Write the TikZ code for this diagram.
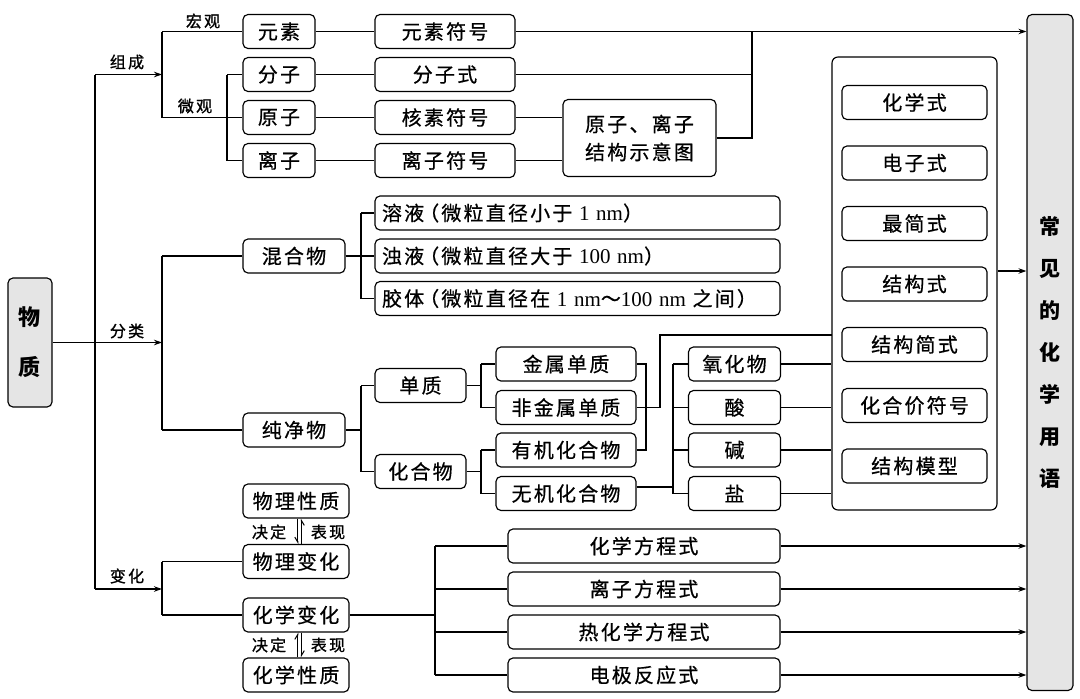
\documentclass[tikz,border=0pt]{standalone}
\usepackage{fontspec}
\setmainfont{Liberation Serif}
\newfontfamily\cjk[LetterSpace=11,FakeBold=0.6]{Noto Sans CJK SC}
\newfontfamily\cjkl[LetterSpace=14,FakeBold=1.2]{Noto Sans CJK SC}
\newfontfamily\cjkn{Noto Sans CJK SC}
\usetikzlibrary{arrows.meta}
\newcommand\lparen{\kern-5pt（}
\begin{document}
\begin{tikzpicture}[x=1pt,y=-1pt,line width=1.15pt,
  bx/.style={draw, rounded corners=5pt, inner sep=0pt, minimum height=34pt, font=\cjk\fontsize{20}{22}\selectfont},
  lb/.style={font=\cjkl\fontsize{16}{16}\selectfont, inner sep=0pt},
  arr/.style={-{Stealth[length=8pt,width=5.5pt]}},
  gbox/.style={draw, rounded corners=5pt, fill=black!10, inner sep=0pt},
  wide/.style={bx, text width=391pt, align=left, inner xsep=7pt, minimum width=405pt},
  hp/.style={-{Straight Barb[harpoon,length=5pt,width=6pt]}, line width=1pt},
  hps/.style={-{Straight Barb[harpoon,swap,length=5pt,width=6pt]}, line width=1pt}]
\useasboundingbox (0,0) rectangle (1080,699);
% big boxes
\node[gbox, minimum width=44pt, minimum height=129pt, align=center, font=\cjkn\bfseries\fontsize{22}{50}\selectfont] (wuzhi) at (30,342.5) {物\\质};
\node[gbox, minimum width=46pt, minimum height=676pt, align=center, font=\cjkn\bfseries\fontsize{21}{42}\selectfont] (big) at (1050,352.5) {常\\见\\的\\化\\学\\用\\语};
\node[draw, rounded corners=6pt, minimum width=165pt, minimum height=453pt, inner sep=0pt] (inner) at (914.5,283.5) {};
% top part
\node[bx, minimum width=72pt] (yuansu) at (279,31.5) {元素};
\node[bx, minimum width=140pt] (yuansufh) at (445,31.5) {元素符号};
\node[bx, minimum width=72pt] (fenzi) at (279,74.5) {分子};
\node[bx, minimum width=140pt] (fenzishi) at (445,74.5) {分子式};
\node[bx, minimum width=72pt] (yuanzi) at (279,117.5) {原子};
\node[bx, minimum width=140pt] (hesu) at (445,117.5) {核素符号};
\node[bx, minimum width=72pt] (lizi) at (279,160.5) {离子};
\node[bx, minimum width=140pt] (lizifh) at (445,160.5) {离子符号};
\node[bx, minimum width=153pt, minimum height=77pt, align=center, font=\cjk\fontsize{20}{28}\selectfont] (jiegou) at (639.5,138) {原子、离子\\结构示意图};
% middle part
\node[bx, minimum width=102pt] (hunhe) at (294,256) {混合物};
\node[bx, minimum width=102pt] (chunjing) at (294,430) {纯净物};
\node[wide] (rongye) at (577.5,213) {溶液\lparen 微粒直径小于{\rmfamily\fontsize{21}{22}\selectfont\ 1 nm}）};
\node[wide] (zhuoye) at (577.5,256) {浊液\lparen 微粒直径大于{\rmfamily\fontsize{21}{22}\selectfont\ 100 nm}）};
\node[wide] (jiaoti) at (577.5,298.5) {胶体\lparen 微粒直径在{\rmfamily\fontsize{21}{22}\selectfont\ 1 nm}～{\rmfamily\fontsize{21}{22}\selectfont 100 nm\ }之间）};
\node[bx, minimum width=91pt] (danzhi) at (420.5,385.5) {单质};
\node[bx, minimum width=91pt] (huahewu) at (420.5,471.5) {化合物};
\node[bx, minimum width=140pt] (jinshu) at (566,364) {金属单质};
\node[bx, minimum width=140pt] (feijinshu) at (566,407.5) {非金属单质};
\node[bx, minimum width=140pt] (youji) at (566,450) {有机化合物};
\node[bx, minimum width=140pt] (wuji) at (566,493.5) {无机化合物};
\node[bx, minimum width=92pt] (yanghua) at (734.5,364) {氧化物};
\node[bx, minimum width=92pt] (suan) at (734.5,407.5) {酸};
\node[bx, minimum width=92pt] (jian) at (734.5,450) {碱};
\node[bx, minimum width=92pt] (yan) at (734.5,493.5) {盐};
\node[bx, minimum width=145pt] (s1) at (914.5,102.5) {化学式};
\node[bx, minimum width=145pt] (s2) at (914.5,163) {电子式};
\node[bx, minimum width=145pt] (s3) at (914.5,223.5) {最简式};
\node[bx, minimum width=145pt] (s4) at (914.5,284) {结构式};
\node[bx, minimum width=145pt] (s5) at (914.5,344.5) {结构简式};
\node[bx, minimum width=145pt] (s6) at (914.5,405.5) {化合价符号};
\node[bx, minimum width=145pt] (s7) at (914.5,466) {结构模型};
% bottom part
\node[bx, minimum width=106pt] (wulixz) at (296,501) {物理性质};
\node[bx, minimum width=106pt] (wulibh) at (296,561.5) {物理变化};
\node[bx, minimum width=106pt] (huaxuebh) at (296,615) {化学变化};
\node[bx, minimum width=106pt] (huaxuexz) at (296,675) {化学性质};
\node[bx, minimum width=272pt] (fc1) at (644,546) {化学方程式};
\node[bx, minimum width=272pt] (fc2) at (644,589) {离子方程式};
\node[bx, minimum width=272pt] (fc3) at (644,632) {热化学方程式};
\node[bx, minimum width=272pt] (fc4) at (644,675) {电极反应式};
% labels
\node[lb] (lhg) at (203,21) {宏观};
\node[lb] (lzc) at (127,62) {组成};
\node[lb] (lwg) at (195,106) {微观};
\node[lb] (lfl) at (127,331) {分类};
\node[lb] (lbh) at (127,576) {变化};
\node[lb] (ljd1) at (269,532) {决定};
\node[lb] (lbx1) at (328,532) {表现};
\node[lb] (ljd2) at (269,645) {决定};
\node[lb] (lbx2) at (328,645) {表现};
% coordinates
\coordinate (tTop) at (95,74.5);
\coordinate (tMid) at (95,342.5);
\coordinate (tBot) at (95,589);
\coordinate (zcJ) at (162,74.5);
\coordinate (zcT) at (162,31.5);
\coordinate (zcB) at (162,117.5);
\coordinate (wgT) at (227,74.5);
\coordinate (wgB) at (227,160.5);
\coordinate (jJ) at (752,31.5);
\coordinate (jM) at (752,74.5);
\coordinate (jB) at (752,138);
\coordinate (flJ) at (162,342.5);
\coordinate (flT) at (162,256);
\coordinate (flB) at (162,430);
\coordinate (hhT) at (361,213);
\coordinate (hhM) at (361,256);
\coordinate (hhB) at (361,298.5);
\coordinate (cjT) at (361,385.5);
\coordinate (cjM) at (361,430);
\coordinate (cjB) at (361,471.5);
\coordinate (dzT) at (481,364);
\coordinate (dzM) at (481,385.5);
\coordinate (dzB) at (481,407.5);
\coordinate (hhwT) at (481,450);
\coordinate (hhwM) at (481,471.5);
\coordinate (hhwB) at (481,493.5);
\coordinate (rT) at (646,364);
\coordinate (rB) at (646,450);
\coordinate (fjA) at (660,407.5);
\coordinate (fjB) at (660,335);
\coordinate (fjC) at (832,335);
\coordinate (wjT) at (673,364);
\coordinate (wjM) at (673,487);
\coordinate (wjB) at (673,493.5);
\coordinate (bhJ) at (162,589);
\coordinate (bhT) at (162,561.5);
\coordinate (bhB) at (162,615);
\coordinate (fcT) at (435,546);
\coordinate (fcM) at (435,615);
\coordinate (fcB) at (435,675);
% trunk
\draw (tTop) -- (tBot);
\draw (wuzhi.east) -- (tMid);
\draw[arr] (tTop) -- (zcJ);
\draw[arr] (tMid) -- (flJ);
\draw[arr] (tBot) -- (bhJ);
% composition
\draw (zcT) -- (zcB);
\draw (zcT) -- (yuansu.west);
\draw (zcB) -- (yuanzi.west);
\draw (wgT) -- (wgB);
\draw (wgT) -- (fenzi.west);
\draw (wgB) -- (lizi.west);
\draw (yuansu) -- (yuansufh);
\draw (fenzi) -- (fenzishi);
\draw (yuanzi) -- (hesu);
\draw (lizi) -- (lizifh);
\draw[arr] (yuansufh.east) -- (yuansufh.east -| big.west);
\draw (fenzishi.east) -- (jM);
\draw (hesu.east) -- (hesu.east -| jiegou.west);
\draw (lizifh.east) -- (lizifh.east -| jiegou.west);
\draw (jiegou.east) -- (jB) -- (jJ);
% classification
\draw (flT) -- (flB);
\draw (flT) -- (hunhe.west);
\draw (flB) -- (chunjing.west);
\draw (hunhe.east) -- (hhM);
\draw (hhT) -- (hhB);
\draw (hhT) -- (rongye.west);
\draw (hhM) -- (zhuoye.west);
\draw (hhB) -- (jiaoti.west);
\draw (chunjing.east) -- (cjM);
\draw (cjT) -- (cjB);
\draw (cjT) -- (danzhi.west);
\draw (cjB) -- (huahewu.west);
\draw (danzhi.east) -- (dzM);
\draw (dzT) -- (dzB);
\draw (dzT) -- (jinshu.west);
\draw (dzB) -- (feijinshu.west);
\draw (huahewu.east) -- (hhwM);
\draw (hhwT) -- (hhwB);
\draw (hhwT) -- (youji.west);
\draw (hhwB) -- (wuji.west);
\draw (jinshu.east) -- (rT) -- (rB) -- (youji.east);
\draw (feijinshu.east) -- (fjA) -- (fjB) -- (fjC);
\draw ([yshift=6.5pt]wuji.east) -- (wjM);
\draw (wjT) -- (wjB);
\draw (wjT) -- (yanghua.west);
\draw (suan.west -| wjT) -- (suan.west);
\draw (jian.west -| wjT) -- (jian.west);
\draw (wjB) -- (yan.west);
\draw (yanghua.east) -- (yanghua.east -| inner.west);
\draw (suan.east) -- (suan.east -| inner.west);
\draw (jian.east) -- (jian.east -| inner.west);
\draw (yan.east) -- (yan.east -| inner.west);
\draw[arr] ([yshift=12.5pt]inner.east) -- ([yshift=12.5pt]inner.east -| big.west);
% change
\draw (bhT) -- (bhB);
\draw (bhT) -- (wulibh.west);
\draw (bhB) -- (huaxuebh.west);
\draw (huaxuebh.east) -- (fcM);
\draw (fcT) -- (fcB);
\draw (fcT) -- (fc1.west);
\draw (fc2.west -| fcT) -- (fc2.west);
\draw (fc3.west -| fcT) -- (fc3.west);
\draw (fcB) -- (fc4.west);
\draw[arr] (fc1.east) -- (fc1.east -| big.west);
\draw[arr] (fc2.east) -- (fc2.east -| big.west);
\draw[arr] (fc3.east) -- (fc3.east -| big.west);
\draw[arr] (fc4.east) -- (fc4.east -| big.west);
% decide / show harpoons
\draw[hps] ([xshift=1.8pt]wulixz.south) -- ([xshift=1.8pt]wulibh.north);
\draw[hps] ([xshift=5.3pt]wulibh.north) -- ([xshift=5.3pt]wulixz.south);
\draw[hp] ([xshift=1.8pt]huaxuexz.north) -- ([xshift=1.8pt]huaxuebh.south);
\draw[hp] ([xshift=5.3pt]huaxuebh.south) -- ([xshift=5.3pt]huaxuexz.north);
\end{tikzpicture}
\end{document}
